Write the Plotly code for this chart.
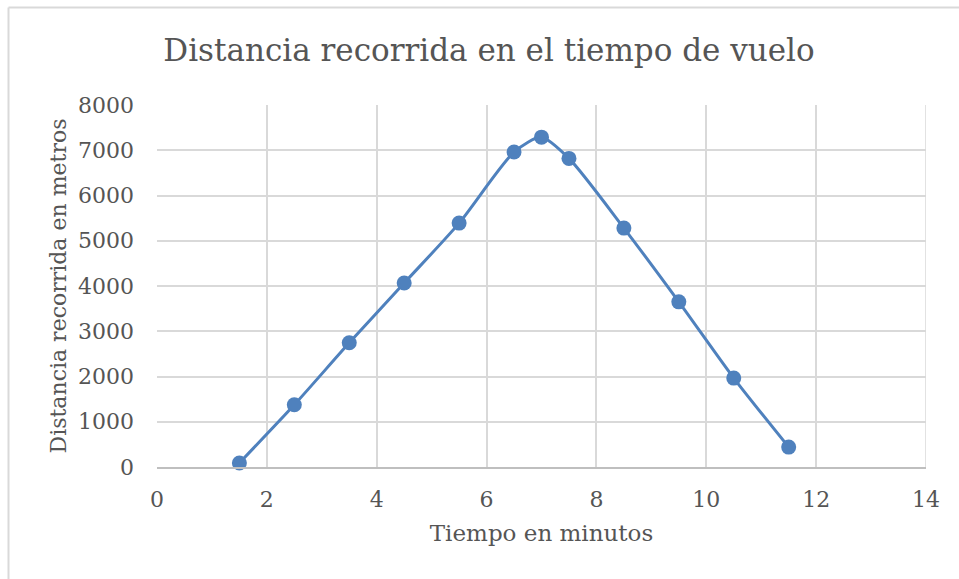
import plotly.graph_objects as go

# Flight time (minutes) vs. distance covered (metres)
tiempo_min = [1.5, 2.5, 3.5, 4.5, 5.5, 6.5, 7.0, 7.5, 8.5, 9.5, 10.5, 11.5]
distancia_m = [90, 1375, 2745, 4065, 5390, 6960, 7290, 6820, 5280, 3650, 1965, 440]

x_ticks = [0, 2, 4, 6, 8, 10, 12, 14]
y_ticks = [0, 1000, 2000, 3000, 4000, 5000, 6000, 7000, 8000]

FONT = "DejaVu Serif"
TEXT = "#555555"
GRID = "#d9d9d9"
BLUE = "#4f81bd"

W, H = 959, 579
L, R, T, B = 157, 33, 105, 112
pw, ph = W - L - R, H - T - B

fig = go.Figure(
    go.Scatter(
        x=tiempo_min,
        y=distancia_m,
        mode="lines+markers",
        line=dict(color=BLUE, width=3, shape="spline", smoothing=0.7),
        marker=dict(color=BLUE, size=15),
        cliponaxis=False,
        showlegend=False,
    )
)

# outer chart frame (top and left edges visible)
fx0 = (8.5 - L) / pw
fy1 = 1 + (T - 7.5) / ph
fig.add_shape(type="line", xref="paper", yref="paper", x0=fx0, x1=1 + R / pw + 0.01,
              y0=fy1, y1=fy1, line=dict(color=GRID, width=2))
fig.add_shape(type="line", xref="paper", yref="paper", x0=fx0, x1=fx0,
              y0=fy1, y1=-B / ph - 0.01, line=dict(color=GRID, width=2))

fig.update_layout(
    width=W,
    height=H,
    margin=dict(l=L, r=R, t=T, b=B),
    paper_bgcolor="white",
    plot_bgcolor="white",
    font=dict(family=FONT, color=TEXT),
    title=dict(
        text="Distancia recorrida en el tiempo de vuelo",
        font=dict(family=FONT, size=31, color=TEXT),
        x=489 / W,
        xanchor="center",
        y=1 - 50 / H,
        yanchor="middle",
        xref="container",
        yref="container",
    ),
    xaxis=dict(
        range=[0, 14],
        tickvals=x_ticks,
        ticktext=[str(v) for v in x_ticks],
        showgrid=True,
        gridcolor=GRID,
        gridwidth=1.5,
        zeroline=False,
        showline=True,
        linecolor="#bfbfbf",
        linewidth=1.5,
        ticks="",
        ticklabelstandoff=12,
        tickfont=dict(size=22, color=TEXT),
        title=dict(text="Tiempo en minutos", font=dict(size=23, color=TEXT), standoff=14),
        mirror=False,
    ),
    yaxis=dict(
        range=[0, 8000],
        tickvals=y_ticks,
        ticktext=[str(v) for v in y_ticks],
        showgrid=True,
        gridcolor=GRID,
        gridwidth=1.5,
        zeroline=False,
        showline=False,
        ticks="",
        ticklabelstandoff=22,
        tickfont=dict(size=22, color=TEXT),
        title=dict(text="Distancia recorrida en metros", font=dict(size=22, color=TEXT), standoff=5),
    ),
)

# right boundary of the plot area (x = 14 gridline)
fig.add_shape(type="line", xref="x", yref="paper", x0=14, x1=14, y0=0, y1=1,
              line=dict(color=GRID, width=1.5), layer="below")

fig.write_html("out.html")
